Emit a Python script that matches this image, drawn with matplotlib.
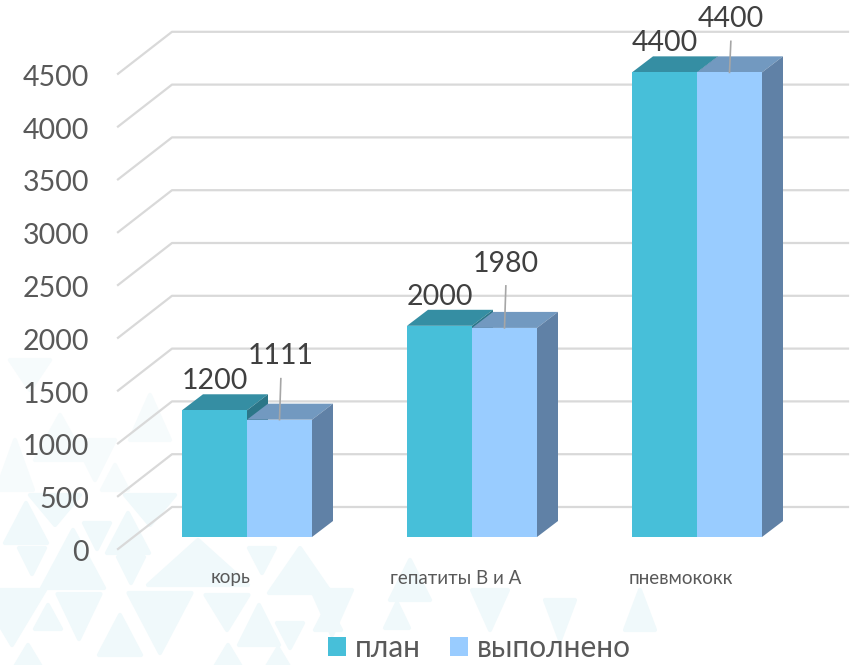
import numpy as np
import matplotlib
matplotlib.use('Agg')
import matplotlib.pyplot as plt
from matplotlib.patches import Polygon, Rectangle, Patch

plt.rcParams['font.family'] = ['Lato', 'Open Sans', 'DejaVu Sans']

categories = ['корь', 'гепатиты В и А', 'пневмококк']
plan = [1200, 2000, 4400]
done = [1111, 1980, 4400]
y_ticks = [0, 500, 1000, 1500, 2000, 2500, 3000, 3500, 4000, 4500]

W, H = 864, 665
PX_X = 225.0    # px per category
PX_Y = 0.1056   # px per value
bar_w = 65 / PX_X
dep_x, dep_y = 21 / PX_X, 16 / PX_Y

# background pattern: centre x, top y, width, height (picture px)
tri_up = [(73, 530, 62, 58), (26, 503, 42, 40), (128, 513, 42, 40), (198, 540, 100, 45),
          (300, 548, 62, 45), (120, 615, 42, 40), (48, 605, 26, 24), (259, 605, 40, 40),
          (328, 605, 26, 25), (397, 603, 24, 25), (28, 645, 36, 30), (228, 645, 36, 30),
          (278, 648, 30, 25), (15, 440, 36, 50), (115, 465, 26, 25), (60, 415, 50, 45),
          (150, 395, 40, 45), (410, 560, 40, 40), (640, 590, 30, 40)]
tri_down = [(160, 593, 63, 60), (79, 594, 43, 45), (227, 595, 43, 35), (12, 590, 66, 55),
            (32, 548, 26, 26), (131, 557, 26, 26), (97, 523, 26, 26), (55, 495, 50, 30),
            (150, 495, 50, 30), (262, 548, 26, 25), (95, 440, 40, 40), (332, 590, 40, 45),
            (290, 623, 26, 25), (490, 590, 36, 40), (560, 600, 30, 40), (30, 360, 40, 30)]


def X(px):
    return (px - 247) / PX_X


def Y(px):
    return (537 - px) / PX_Y


fig = plt.figure(figsize=(W / 100, H / 100), dpi=100)
ax = fig.add_axes([0, 0, 1, 1])
ax.set_xlim(X(0), X(W))
ax.set_ylim(Y(H), Y(0))
ax.axis('off')

for tris, up in [(tri_up, True), (tri_down, False)]:
    for cx, top, w, h in tris:
        c = '#f0f9fb' if top > 480 else '#f6fbfc'
        if up:
            pts = [(cx, top), (cx - w / 2, top + h), (cx + w / 2, top + h)]
        else:
            pts = [(cx - w / 2, top), (cx + w / 2, top), (cx, top + h)]
        ax.add_patch(Polygon([(X(a), Y(b)) for a, b in pts], fc=c, ec=c, lw=3,
                             joinstyle='round', zorder=0))

# grid, floor and back wall lines
for v in y_ticks:
    back = v + Y(507)
    front = v + Y(549)
    ax.plot([X(118), X(172), X(848)], [front, back, back], color='#d9d9d9', lw=1.6, zorder=1)
    ax.text(X(89), v + Y(553), str(v), ha='right', va='center', fontsize=20.5, color='#595959')


def bar3d(x0, val, front, top, side):
    x1 = x0 + bar_w
    ax.add_patch(Rectangle((x0, 0), bar_w, val, fc=front, ec='none', zorder=3))
    ax.add_patch(Polygon([(x0, val), (x1, val), (x1 + dep_x, val + dep_y), (x0 + dep_x, val + dep_y)],
                         fc=top, ec='none', zorder=2.5))
    ax.add_patch(Polygon([(x1, 0), (x1 + dep_x, dep_y), (x1 + dep_x, val + dep_y), (x1, val)],
                         fc=side, ec='none', zorder=2.5))


# gap between the label of the second bar and the bar top, px
label_gap = [64, 64, 53]
leader_gap = [41, 42, 31]

for i in range(len(categories)):
    bar3d(i - bar_w, plan[i], '#47bfd9', '#358ea3', '#2b7688')
    bar3d(i, done[i], '#99ccff', '#7299c0', '#6081a6')
    ax.text(i - bar_w / 2, plan[i] + 29 / PX_Y, str(plan[i]), ha='center', va='center',
            fontsize=20.5, color='#404040', zorder=5)
    ax.text(i + bar_w / 2 + 0.005, done[i] + label_gap[i] / PX_Y, str(done[i]), ha='center',
            va='center', fontsize=20.5, color='#404040', zorder=5)
    ax.plot([i + bar_w / 2 + 0.006, i + bar_w / 2], [done[i] + leader_gap[i] / PX_Y, done[i]],
            color='#a6a6a6', lw=1.2, zorder=5)
    ax.text(i - 16 / PX_X, Y(578), categories[i], ha='center', va='center', fontsize=13.5, color='#595959')

handles = [Patch(fc='#47bfd9', label='план'), Patch(fc='#99ccff', label='выполнено')]
fig.legend(handles=handles, loc='lower center', bbox_to_anchor=(0.555, -0.036), ncol=2, frameon=False,
           fontsize=21.4, labelcolor='#595959', handlelength=0.6, handleheight=0.6,
           handletextpad=0.3, columnspacing=1.0)

fig.savefig('out.png', dpi=100)
